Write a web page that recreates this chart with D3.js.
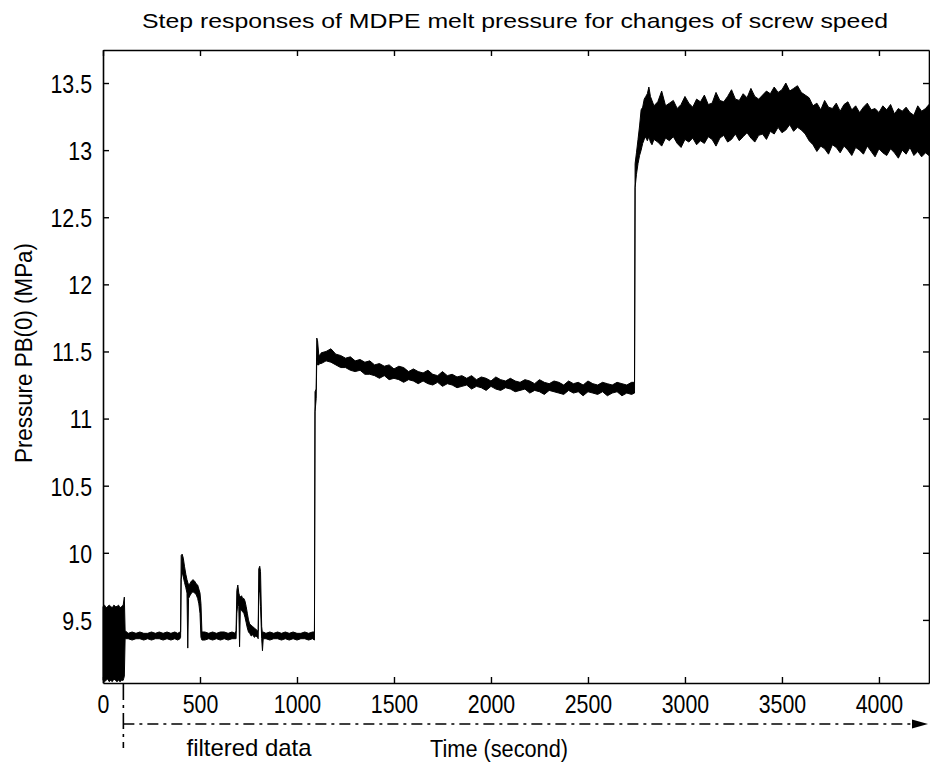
<!DOCTYPE html>
<html><head><meta charset="utf-8">
<script src="https://cdn.jsdelivr.net/npm/d3@7"></script>
<style>
html,body{margin:0;padding:0;background:#fff;}
svg{display:block;}
text{font-family:"Liberation Sans", Arial, Helvetica, sans-serif; fill:#000;}
</style></head><body>
<svg id="chart" width="930" height="770"></svg>
<script>
const chartTitle = "Step responses of MDPE melt pressure for changes of screw speed";
const xAxisLabel = "Time (second)";
const yAxisLabel = "Pressure PB(0) (MPa)";
const annotationLabel = "filtered data";
const xTicks = [0, 500, 1000, 1500, 2000, 2500, 3000, 3500, 4000];
const yTicks = [9.5, 10, 10.5, 11, 11.5, 12, 12.5, 13, 13.5];
const yTickLabels = ["9.5", "10", "10.5", "11", "11.5", "12", "12.5", "13", "13.5"];
const filterStart = 105;

// measured signal envelope (time in s, lower / upper pressure in MPa)
const times = [
  0,8,16,24,32,40,48,56,64,72,80,88,96,104,110,114,
  130,150,170,190,210,230,250,270,290,310,330,350,370,385,397,
  400,403,408,414,420,427,433,437,441,448,456,464,472,480,488,494,500,505,510,
  525,545,565,585,605,625,645,665,682,
  686,690,695,700,704,708,714,720,726,732,738,744,750,756,764,772,780,788,796,800,803,808,812,818,822,826,
  840,860,880,900,920,940,960,980,1000,1020,1040,1060,1080,1090,
  1093,1099,1102,1106,1112,1118,
  1125,1150,1175,1200,1225,1250,1275,1300,1325,1350,1375,1400,1425,1450,1475,1500,1525,1550,1575,1600,
  1625,1650,1675,1700,1725,1750,1775,1800,1825,1850,1875,1900,1925,1950,1975,2000,2025,2050,2075,2100,
  2125,2150,2175,2200,2225,2250,2275,2300,2325,2350,2375,2400,2425,2450,2475,2500,2525,2550,2575,2600,
  2625,2650,2675,2700,2725,
  2740,2743,2750,2758,2766,2774,2782,2790,2798,2806,2814,2822,2830,
  2840,2860,2880,2900,2920,2940,2960,2980,3000,3020,
  3040,3060,3080,3100,3120,3140,3160,3180,3200,3220,
  3240,3260,3280,3300,3320,3340,3360,3380,3400,3420,
  3440,3460,3480,3500,3520,3540,3560,3580,3600,3620,
  3640,3660,3680,3700,3720,3740,3760,3780,3800,3820,
  3840,3860,3880,3900,3920,3940,3960,3980,4000,4020,
  4040,4060,4080,4100,4120,4140,4160,4180,4200,4220,
  4240,4258
];
const lows = [
  9.05,9.04,9.05,9.06,9.04,9.05,9.04,9.06,9.05,9.04,9.05,9.04,9.05,9.05,9.08,9.36,
  9.36,9.35,9.36,9.36,9.35,9.36,9.35,9.36,9.36,9.35,9.36,9.35,9.36,9.35,9.36,
  9.37,9.80,9.86,9.82,9.78,9.74,9.70,9.29,9.66,9.68,9.70,9.71,9.70,9.69,9.66,9.62,9.55,9.37,9.35,
  9.35,9.36,9.35,9.36,9.35,9.36,9.35,9.36,9.36,
  9.36,9.55,9.62,9.60,9.30,9.58,9.57,9.56,9.55,9.52,9.48,9.44,9.41,9.40,9.38,9.39,9.37,9.38,9.37,9.36,9.70,9.72,9.60,9.36,9.27,9.36,
  9.36,9.35,9.36,9.36,9.35,9.36,9.35,9.36,9.35,9.36,9.36,9.35,9.36,9.35,
  11.05,11.15,11.45,11.40,11.40,11.41,
  11.41,11.43,11.42,11.40,11.38,11.38,11.36,11.35,11.36,11.33,
  11.33,11.32,11.30,11.32,11.29,11.30,11.29,11.27,11.29,11.28,
  11.26,11.28,11.26,11.25,11.27,11.24,11.26,11.25,11.23,11.24,
  11.25,11.22,11.24,11.23,11.21,11.24,11.22,11.21,11.23,11.22,
  11.20,11.21,11.22,11.19,11.21,11.20,11.18,11.21,11.20,11.19,
  11.18,11.21,11.19,11.20,11.17,11.20,11.19,11.18,11.20,11.17,
  11.19,11.20,11.17,11.19,11.18,
  11.19,12.72,12.82,12.90,12.96,13.00,13.05,13.08,13.10,13.07,13.10,13.06,13.04,
  13.08,13.06,13.03,13.09,13.07,13.10,13.05,13.02,13.08,13.06,
  13.09,13.04,13.07,13.05,13.10,13.08,13.03,13.09,13.11,13.06,
  13.08,13.12,13.07,13.10,13.13,13.09,13.06,13.11,13.12,13.08,
  13.14,13.12,13.17,13.13,13.15,13.19,13.14,13.17,13.15,13.12,
  13.07,13.04,12.99,13.03,13.01,12.97,13.04,13.02,12.98,13.03,
  13.00,12.96,13.02,13.00,12.97,13.03,12.99,12.95,13.01,12.98,
  12.96,13.01,12.98,12.94,13.00,12.97,13.02,12.96,12.99,12.95,
  12.98,12.96
];
const highs = [
  9.60,9.61,9.59,9.60,9.61,9.60,9.59,9.61,9.60,9.60,9.61,9.59,9.60,9.61,9.67,9.42,
  9.40,9.41,9.40,9.41,9.40,9.40,9.41,9.40,9.41,9.40,9.41,9.40,9.41,9.40,9.41,
  9.41,9.98,9.99,9.96,9.90,9.84,9.80,9.78,9.76,9.77,9.79,9.80,9.79,9.77,9.76,9.73,9.70,9.62,9.41,
  9.41,9.40,9.41,9.40,9.41,9.41,9.40,9.41,9.40,
  9.42,9.72,9.76,9.70,9.68,9.67,9.68,9.66,9.66,9.64,9.60,9.55,9.50,9.47,9.46,9.45,9.44,9.43,9.42,9.42,9.88,9.90,9.86,9.45,9.40,9.41,
  9.40,9.41,9.40,9.41,9.40,9.41,9.40,9.41,9.40,9.40,9.41,9.40,9.41,9.41,
  11.20,11.22,11.60,11.58,11.48,11.47,
  11.49,11.50,11.52,11.48,11.47,11.45,11.46,11.43,11.44,11.42,
  11.43,11.40,11.41,11.39,11.40,11.37,11.39,11.38,11.35,11.37,
  11.35,11.34,11.36,11.33,11.32,11.35,11.32,11.33,11.31,11.32,
  11.30,11.32,11.29,11.31,11.30,11.28,11.31,11.29,11.28,11.30,
  11.28,11.27,11.29,11.28,11.26,11.29,11.27,11.26,11.28,11.27,
  11.25,11.28,11.26,11.27,11.25,11.28,11.26,11.25,11.27,11.26,
  11.25,11.27,11.26,11.25,11.27,
  11.27,12.90,12.98,13.08,13.18,13.30,13.32,13.38,13.40,13.42,13.47,13.40,13.37,
  13.33,13.36,13.44,13.33,13.35,13.37,13.31,13.34,13.40,13.35,
  13.32,13.38,13.36,13.41,13.34,13.35,13.43,13.37,13.36,13.40,
  13.45,13.38,13.37,13.42,13.39,13.46,13.40,13.38,13.41,13.44,
  13.42,13.47,13.43,13.45,13.50,13.44,13.46,13.48,13.43,13.41,
  13.39,13.33,13.35,13.30,13.37,13.32,13.31,13.35,13.29,13.34,
  13.36,13.30,13.33,13.28,13.32,13.35,13.30,13.31,13.28,13.33,
  13.30,13.34,13.27,13.31,13.29,13.32,13.28,13.26,13.33,13.29,
  13.31,13.34
];

const svg = d3.select("#chart");
const plot = {left: 103, right: 929, top: 50, bottom: 683};
const x = d3.scaleLinear().domain([0, 4258]).range([plot.left, plot.right]);
const y = d3.scaleLinear().domain([9.03, 13.746]).range([plot.bottom, plot.top]);

svg.append("rect").attr("width", 930).attr("height", 770).attr("fill", "#fff");

// signal
const data = times.map((t, i) => ({t, lo: lows[i], hi: highs[i]}));
const area = d3.area().x(d => x(d.t)).y0(d => y(d.lo)).y1(d => y(d.hi));
svg.append("path").datum(data).attr("d", area)
  .attr("fill", "#000").attr("stroke", "#000").attr("stroke-width", 1).attr("stroke-linejoin", "round");

function condense(sel, factor) {
  sel.each(function() {
    const w = this.getComputedTextLength();
    d3.select(this).attr("textLength", w * factor).attr("lengthAdjust", "spacingAndGlyphs");
  });
}

// axes
const gB = svg.append("g").attr("transform", `translate(0,${plot.bottom})`)
  .call(d3.axisBottom(x).tickValues(xTicks).tickSizeInner(-6).tickSizeOuter(0).tickFormat(d3.format("d")));
const gT = svg.append("g").attr("transform", `translate(0,${plot.top})`)
  .call(d3.axisTop(x).tickValues(xTicks).tickSizeInner(-6).tickSizeOuter(0).tickFormat(""));
const gL = svg.append("g").attr("transform", `translate(${plot.left},0)`)
  .call(d3.axisLeft(y).tickValues(yTicks).tickSizeInner(-6).tickSizeOuter(0).tickFormat((d, i) => yTickLabels[i]));
const gR = svg.append("g").attr("transform", `translate(${plot.right},0)`)
  .call(d3.axisRight(y).tickValues(yTicks).tickSizeInner(-6).tickSizeOuter(0).tickFormat(""));

[gB, gT, gL, gR].forEach(g => {
  g.select(".domain").attr("stroke", "#000").attr("stroke-width", 1.6);
  g.selectAll(".tick line").attr("stroke", "#000").attr("stroke-width", 1.4);
  g.selectAll("text").attr("font-family", null).attr("font-size", null);
});

gB.selectAll(".tick text").attr("y", 30).attr("dy", 0).style("font-size", "26px");
condense(gB.selectAll(".tick text"), 0.82);
gL.selectAll(".tick text").attr("x", -11).attr("dy", "0.36em").style("font-size", "26px");
condense(gL.selectAll(".tick text"), 0.82);

// title
svg.append("text").attr("x", 515).attr("y", 28).attr("text-anchor", "middle")
  .style("font-size", "21px").attr("textLength", 746).attr("lengthAdjust", "spacingAndGlyphs")
  .text(chartTitle);

// y label
svg.append("text").attr("transform", "translate(32,353) rotate(-90)").attr("text-anchor", "middle")
  .style("font-size", "23px").attr("textLength", 220).attr("lengthAdjust", "spacingAndGlyphs")
  .text(yAxisLabel);

// filtered-data annotation
const fx = x(filterStart);
svg.append("line").attr("x1", fx).attr("x2", fx).attr("y1", plot.bottom + 1).attr("y2", 748)
  .attr("stroke", "#000").attr("stroke-width", 1.6).attr("stroke-dasharray", "16,5,3,5");
svg.append("line").attr("x1", fx).attr("x2", 914).attr("y1", 724).attr("y2", 724)
  .attr("stroke", "#000").attr("stroke-width", 1.6).attr("stroke-dasharray", "11,5,3,5");
svg.append("path").attr("d", "M912,719.5 L928,724 L912,728.5 Z").attr("fill", "#000");

svg.append("text").attr("x", 249).attr("y", 756).attr("text-anchor", "middle")
  .style("font-size", "24px").attr("textLength", 125).attr("lengthAdjust", "spacingAndGlyphs")
  .text(annotationLabel);
svg.append("text").attr("x", 499).attr("y", 757).attr("text-anchor", "middle")
  .style("font-size", "23px").attr("textLength", 138).attr("lengthAdjust", "spacingAndGlyphs")
  .text(xAxisLabel);
</script>
</body></html>
